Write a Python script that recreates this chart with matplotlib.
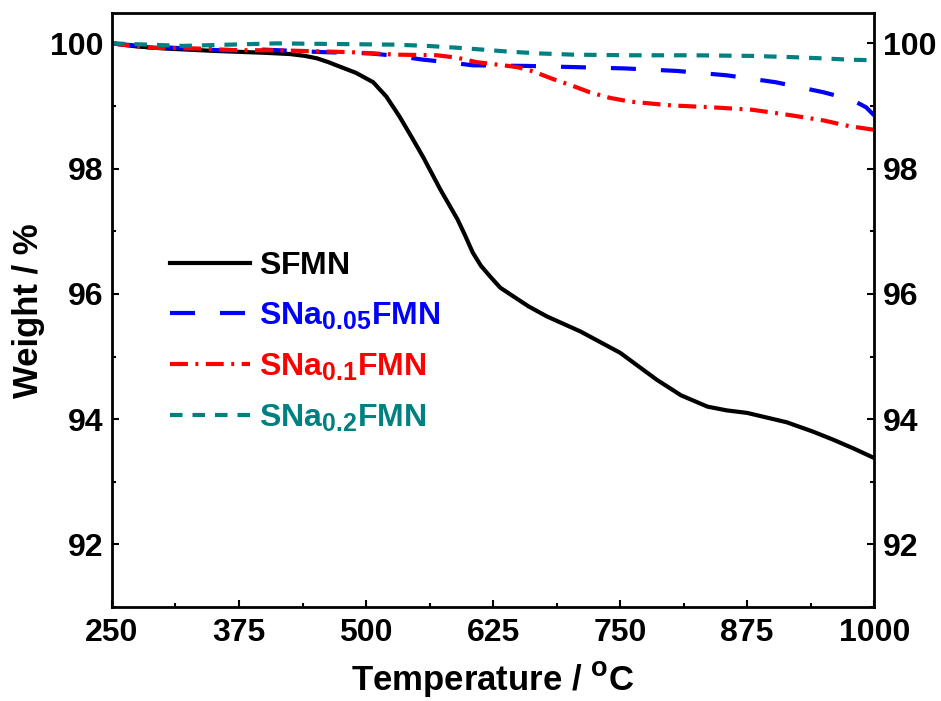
import matplotlib
matplotlib.use("Agg")
import matplotlib.pyplot as plt
from matplotlib.ticker import MultipleLocator
try:
    import matplotlib._mathtext as _mt
    _mt.SHRINK_FACTOR = 0.78
except Exception:
    pass

plt.rcParams['font.family'] = ['Liberation Sans', 'DejaVu Sans']
plt.rcParams['font.weight'] = 'bold'
plt.rcParams['mathtext.fontset'] = 'custom'
plt.rcParams['mathtext.rm'] = 'Liberation Sans:bold'
plt.rcParams['mathtext.bf'] = 'Liberation Sans:bold'
plt.rcParams['mathtext.it'] = 'Liberation Sans:bold'

labels = [r"$\mathrm{SFMN}$", r"$\mathrm{SNa_{0.05}FMN}$",
          r"$\mathrm{SNa_{0.1}FMN}$", r"$\mathrm{SNa_{0.2}FMN}$"]
colors = ["black", "#0000ff", "#ff0000", "#008080"]

t_sfmn = [250, 275, 300, 350, 400, 425, 440, 452, 463, 474, 490, 507, 520, 533, 545, 556,
          573, 590, 597, 605, 613, 622, 632, 645, 660, 678, 711, 750, 786, 810, 836,
          855, 875, 914, 940, 960, 980, 1000]
w_sfmn = [100.0, 99.95, 99.92, 99.88, 99.85, 99.83, 99.8, 99.76, 99.7, 99.63, 99.53, 99.38,
          99.15, 98.83, 98.5, 98.19, 97.67, 97.19, 96.95, 96.66, 96.45, 96.28, 96.1,
          95.96, 95.8, 95.64, 95.4, 95.06, 94.63, 94.38, 94.2, 94.14, 94.1, 93.95, 93.8,
          93.67, 93.53, 93.38]

t_na005 = [250, 277, 310, 356, 400, 458, 504, 530, 556, 580, 605, 658, 708, 755, 806,
           855, 903, 950, 978, 992, 1000]
w_na005 = [100.0, 99.96, 99.93, 99.89, 99.9, 99.86, 99.84, 99.8, 99.74, 99.7, 99.65,
           99.64, 99.62, 99.6, 99.56, 99.49, 99.38, 99.22, 99.1, 98.98, 98.85]

t_na01 = [250, 265, 285, 330, 375, 412, 460, 484, 530, 570, 590, 609, 630, 649, 665,
          684, 702, 720, 740, 760, 800, 840, 880, 915, 950, 975, 1000]
w_na01 = [100.0, 99.97, 99.93, 99.92, 99.89, 99.89, 99.87, 99.86, 99.82, 99.81, 99.77,
          99.7, 99.66, 99.62, 99.55, 99.43, 99.33, 99.22, 99.13, 99.07, 99.01, 98.98,
          98.94, 98.86, 98.77, 98.68, 98.62]

t_na02 = [250, 320, 412, 470, 528, 560, 590, 615, 639, 670, 704, 760, 820, 880, 920,
          950, 975, 1000]
w_na02 = [100.0, 99.96, 100.0, 99.99, 99.98, 99.96, 99.93, 99.9, 99.87, 99.84, 99.82,
          99.81, 99.81, 99.8, 99.78, 99.76, 99.74, 99.73]

fig = plt.figure(figsize=(9.41, 7.01), dpi=100)
ax = fig.add_axes([0.119, 0.134, 0.81, 0.847])

lw = 3
ax.plot(t_sfmn, w_sfmn, color=colors[0], lw=lw, label=labels[0])
ax.plot(t_na005, w_na005, color=colors[1], lw=lw, dashes=(6, 6), label=labels[1])
ax.plot(t_na01, w_na01, color=colors[2], lw=lw, dashes=(4.3, 1.8, 0.7, 1.8), label=labels[2])
ax.plot(t_na02, w_na02, color=colors[3], lw=lw, dashes=(3, 2.4), label=labels[3])

ax.set_xlim(250, 1000)
ax.set_ylim(91.0, 100.48)
ax.xaxis.set_major_locator(MultipleLocator(125))
ax.xaxis.set_minor_locator(MultipleLocator(62.5))
ax.yaxis.set_major_locator(MultipleLocator(2))
ax.yaxis.set_minor_locator(MultipleLocator(1))

ax.tick_params(axis='both', which='both', direction='in', width=1.5)
ax.tick_params(axis='both', which='major', length=5, labelsize=23)
ax.tick_params(axis='both', which='minor', length=3)
ax.tick_params(axis='y', which='both', left=True, right=True, labelleft=True, labelright=True)
ax.tick_params(axis='y', which='major', pad=6)
ax.tick_params(axis='x', which='major', pad=8)
for lab in ax.get_xticklabels() + ax.get_yticklabels():
    lab.set_fontweight('bold')
for sp in ax.spines.values():
    sp.set_linewidth(2)

ax.set_xlabel(r"Temperature / $^{\mathrm{o}}$C", fontsize=25, fontweight='bold', labelpad=9)
ax.set_ylabel("Weight / %", fontsize=25, fontweight='bold', labelpad=4)

leg = ax.legend(loc='upper left', bbox_to_anchor=(0.076, 0.60), borderaxespad=0,
                borderpad=0, frameon=False, fontsize=23, handlelength=2.5,
                handletextpad=0.3, labelspacing=0.62, labelcolor='linecolor')

fig.savefig("out.png", dpi=100)
